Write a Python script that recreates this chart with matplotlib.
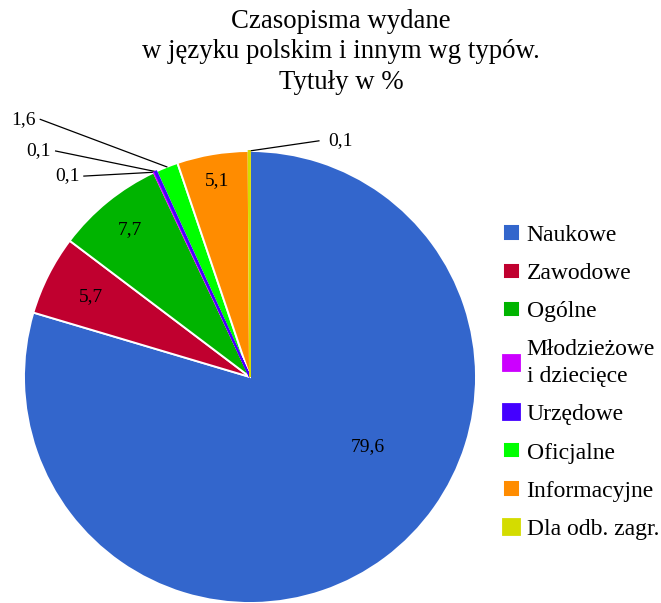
import matplotlib.pyplot as plt
import numpy as np

plt.rcParams['font.family'] = ['Liberation Serif', 'DejaVu Serif']

categories = ["Naukowe", "Zawodowe", "Ogólne", "Młodzieżowe\ni dziecięce",
              "Urzędowe", "Oficjalne", "Informacyjne", "Dla odb. zagr."]
values = [79.6, 5.7, 7.7, 0.1, 0.1, 1.6, 5.1, 0.1]
value_labels = ["79,6", "5,7", "7,7", "0,1", "0,1", "1,6", "5,1", "0,1"]
colors = ["#3366CC", "#C0002F", "#00B400", "#CC00FF",
          "#4400FF", "#00FF00", "#FF8C00", "#D4DC00"]

W, H = 661, 603
fig = plt.figure(figsize=(W / 100, H / 100), dpi=100)

# pie centre (250, 377) px, radius 226 px
cx, cy, r = 250, 377, 226
ax = fig.add_axes([(cx - r) / W, (H - cy - r) / H, 2 * r / W, 2 * r / H])
wedges, _ = ax.pie(values, colors=colors, startangle=90, counterclock=False,
                   wedgeprops=dict(edgecolor="white", linewidth=1.4))
# very thin slices: outline in own colour so they stay visible
for w, v, c in zip(wedges, values, colors):
    if v < 0.5:
        w.set_edgecolor(c)
        w.set_linewidth(1.3)
        w.set_zorder(3)
ax.set_xlim(-1, 1)
ax.set_ylim(-1, 1)
ax.set_aspect("equal")
ax.axis("off")

inside = {0: (0.52, -0.31), 1: 0.79, 2: 0.84, 6: 0.88}
# outside labels: text anchor in data units (ha, x, y)
outside = {3: ("right", -0.755, 0.889),
           4: ("right", -0.880, 1.000),
           5: ("right", -0.948, 1.140),
           7: ("left", 0.345, 1.045)}

for i, w in enumerate(wedges):
    mid = np.deg2rad((w.theta1 + w.theta2) / 2)
    if i in inside:
        pos = inside[i]
        if isinstance(pos, tuple):
            x, y = pos
        else:
            x, y = pos * np.cos(mid), pos * np.sin(mid)
        ax.text(x, y, value_labels[i], ha="center", va="center", fontsize=14)
    else:
        ha, tx, ty = outside[i]
        px, py = np.cos(mid), np.sin(mid)
        lx = tx + (0.02 if ha == "right" else -0.04)
        ax.plot([lx, px], [ty, py], color="black", linewidth=0.9, clip_on=False)
        ax.text(tx, ty, value_labels[i], ha=ha, va="center", fontsize=14,
                clip_on=False)

fig.text(341 / W, 1 - 52 / H,
         "Czasopisma wydane\nw języku polskim i innym wg typów.\nTytuły w %",
         ha="center", va="center", fontsize=19.3, linespacing=1.31)

leg = fig.legend(wedges, categories, loc="upper left",
                 bbox_to_anchor=(494 / W, 1 - 215 / H), frameon=False,
                 fontsize=17, handlelength=0.68, handleheight=0.68,
                 handletextpad=0.3, labelspacing=0.71, borderaxespad=0)
for t in leg.get_texts():
    t.set_linespacing(1.4)

fig.savefig("out.png", dpi=100)
